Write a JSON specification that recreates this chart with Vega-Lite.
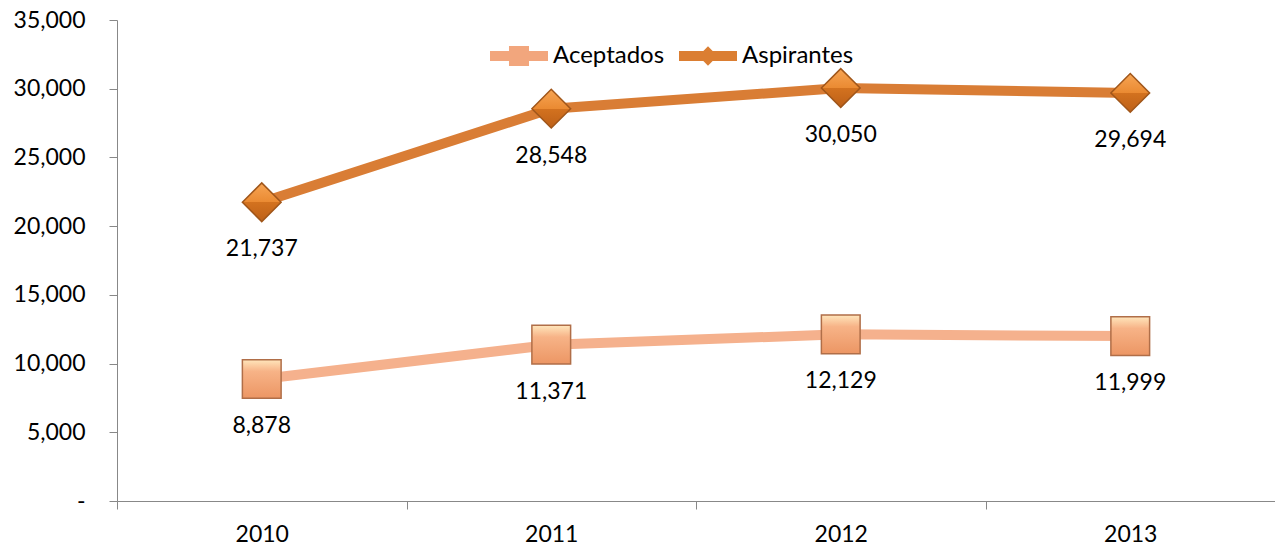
{
  "$schema": "https://vega.github.io/schema/vega-lite/v6.json",
  "width": 1158,
  "height": 481,
  "autosize": "none",
  "padding": {"left": 117, "top": 20, "right": 0, "bottom": 47},
  "config": {"view": {"stroke": null}, "font": "Lato", "legend": {"padding": 0}},
  "data": {"values": [
    {"year": "2010", "series": "Aceptados", "value": 8878},
    {"year": "2011", "series": "Aceptados", "value": 11371},
    {"year": "2012", "series": "Aceptados", "value": 12129},
    {"year": "2013", "series": "Aceptados", "value": 11999},
    {"year": "2010", "series": "Aspirantes", "value": 21737},
    {"year": "2011", "series": "Aspirantes", "value": 28548},
    {"year": "2012", "series": "Aspirantes", "value": 30050},
    {"year": "2013", "series": "Aspirantes", "value": 29694}
  ]},
  "encoding": {
    "x": {"field": "year", "type": "ordinal", "scale": {"type": "band", "paddingInner": 0, "paddingOuter": 0},
      "axis": {"title": null, "labelAngle": 0, "tickBand": "extent", "domainColor": "#888888", "tickColor": "#888888", "tickSize": 8, "labelFontSize": 23, "labelColor": "#000000", "labelPadding": 14, "grid": false}},
    "y": {"field": "value", "type": "quantitative", "scale": {"domain": [0, 35000], "nice": false},
      "axis": {"title": null, "values": [0, 5000, 10000, 15000, 20000, 25000, 30000, 35000], "labelExpr": "datum.value == 0 ? '-' : format(datum.value, ',')", "domainColor": "#888888", "tickColor": "#888888", "tickSize": 8, "labelFontSize": 23, "labelColor": "#000000", "labelPadding": 24, "grid": false}}
  },
  "layer": [
    {
      "mark": {"type": "line", "strokeWidth": 10, "strokeCap": "round", "strokeJoin": "round"},
      "encoding": {
        "color": {"field": "series", "type": "nominal", "scale": {"domain": ["Aceptados", "Aspirantes"], "range": ["#F5B18D", "#D97D35"]}},
        "detail": {"field": "series"}
      }
    },
    {
      "mark": {"type": "point", "filled": true, "size": 0, "opacity": 1},
      "encoding": {
        "shape": {"field": "series", "type": "nominal", "scale": {"domain": ["Aceptados", "Aspirantes"], "range": ["M-1,-0.172L1,-0.172L1,0.172L-1,0.172Z M-0.345,-0.345L0.345,-0.345L0.345,0.345L-0.345,0.345Z", "M-1,-0.172L1,-0.172L1,0.172L-1,0.172Z M0,-0.34L0.33,0L0,0.34L-0.33,0Z"]},
          "legend": {"title": null, "orient": "none", "legendX": 373, "legendY": 7, "direction": "horizontal", "symbolSize": 3364, "symbolStrokeWidth": 0, "symbolOpacity": 1, "labelFontSize": 24, "labelColor": "#000000", "labelOffset": 5, "columnPadding": 14}},
        "color": {"field": "series", "type": "nominal", "scale": {"domain": ["Aceptados", "Aspirantes"], "range": ["#F5B18D", "#D97D35"]}},
        "fill": {"field": "series", "type": "nominal", "scale": {"domain": ["Aceptados", "Aspirantes"], "range": ["#F2A67D", "#DB7E32"]}}
      }
    },
    {
      "mark": {"type": "point", "filled": true, "opacity": 1, "strokeWidth": 1.5, "size": 1500},
      "encoding": {
        "shape": {"condition": {"test": "datum.series == 'Aceptados'", "value": "square"}, "value": "diamond"},
        "fill": {
          "condition": {"test": "datum.series == 'Aceptados'", "value": {"gradient": "linear", "x1": 0, "y1": 0, "x2": 0, "y2": 1, "stops": [{"offset": 0, "color": "#FFE6BC"}, {"offset": 0.3, "color": "#F7B387"}, {"offset": 1, "color": "#EC9664"}]}},
          "value": {"gradient": "linear", "x1": 0, "y1": 0, "x2": 0, "y2": 1, "stops": [{"offset": 0, "color": "#F7A554"}, {"offset": 0.5, "color": "#EA8A32"}, {"offset": 0.5, "color": "#D3721F"}, {"offset": 1, "color": "#BD6018"}]}
        },
        "stroke": {"condition": {"test": "datum.series == 'Aceptados'", "value": "#B06E48"}, "value": "#A0561A"}
      }
    },
    {
      "mark": {"type": "text", "dy": 47, "fontSize": 23, "color": "#000000", "baseline": "middle"},
      "encoding": {"text": {"field": "value", "type": "quantitative", "format": ","}}
    }
  ]
}
